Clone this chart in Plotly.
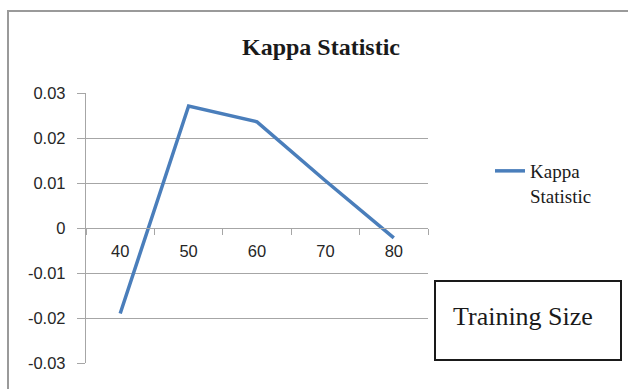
import plotly.graph_objects as go

# Training size categories and the kappa statistic for each
training_size = ["40", "50", "60", "70", "80"]
kappa = [-0.019, 0.0271, 0.0236, 0.0105, -0.0022]
y_ticks = [0.03, 0.02, 0.01, 0, -0.01, -0.02, -0.03]
y_tick_text = ["0.03", "0.02", "0.01", "0", "-0.01", "-0.02", "-0.03"]

W, H = 628, 389
px = lambda x: x / W
py = lambda y: 1 - y / H

grid_col = "#a6a6a6"
serif = "Liberation Serif, Times New Roman, serif"
sans = "Liberation Sans, Arial, sans-serif"

y_bottom, y_top = py(363), py(93)

fig = go.Figure()
fig.add_trace(go.Scatter(
    x=training_size, y=kappa, mode="lines", name="Kappa<br>Statistic",
    line=dict(color="#4a7ebb", width=3.5),
))

fig.update_layout(
    width=W, height=H,
    margin=dict(l=0, r=0, t=0, b=0, pad=0),
    paper_bgcolor="white", plot_bgcolor="white",
    title=dict(text="<b>Kappa Statistic</b>", x=px(321), xanchor="center",
               y=py(47), yanchor="middle",
               font=dict(family=serif, size=24, color="#1a1a1a")),
    xaxis=dict(
        type="category", domain=[px(86), px(428)], range=[-0.5, 4.5],
        anchor="free", position=(y_bottom + y_top) / 2, automargin=False,
        showgrid=False, showline=True, linecolor=grid_col, linewidth=1.3,
        ticks="outside", tickson="boundaries", ticklen=6, tickcolor=grid_col,
        ticklabelstandoff=8,
        tickfont=dict(family=sans, size=16.5, color="#262626"),
        zeroline=False,
    ),
    yaxis=dict(
        domain=[y_bottom, y_top], range=[-0.03, 0.03], automargin=False,
        tickvals=y_ticks, ticktext=y_tick_text,
        showgrid=True, gridcolor=grid_col, gridwidth=1.3,
        showline=True, linecolor=grid_col, linewidth=1.3,
        ticks="outside", ticklen=8, tickcolor=grid_col,
        ticklabelstandoff=8,
        tickfont=dict(family=sans, size=16.5, color="#262626"),
        zeroline=False,
    ),
    showlegend=True,
    legend=dict(x=px(490), y=py(152), xanchor="left", yanchor="top",
                valign="top", bgcolor="rgba(0,0,0,0)",
                font=dict(family=serif, size=19, color="#1a1a1a")),
    shapes=[
        # outer chart frame
        dict(type="rect", xref="paper", yref="paper",
             x0=px(8), y0=-0.05, x1=1.05, y1=py(11),
             line=dict(color="#9a9a9a", width=2)),
        # boxed caption
        dict(type="rect", xref="paper", yref="paper",
             x0=px(435), y0=py(360), x1=px(621), y1=py(281),
             line=dict(color="#1a1a1a", width=2)),
    ],
    annotations=[
        dict(text="Training Size", xref="paper", yref="paper",
             x=px(523), y=py(316), xanchor="center", yanchor="middle",
             showarrow=False,
             font=dict(family=serif, size=26, color="#1a1a1a")),
    ],
)

fig.write_html("out.html")
